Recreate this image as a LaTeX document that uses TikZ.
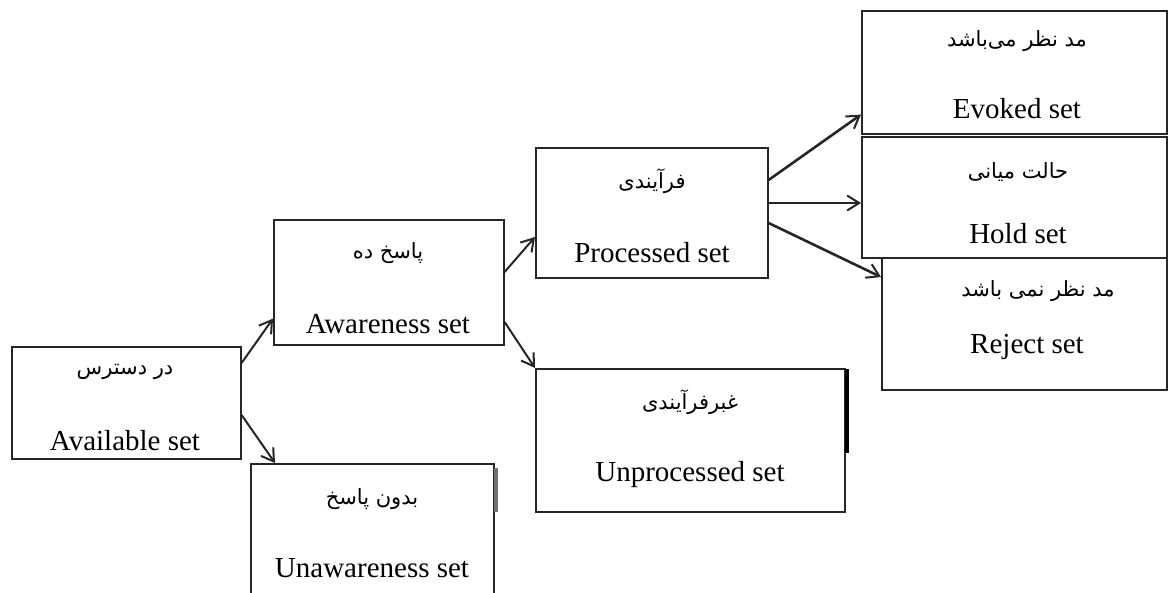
\documentclass[tikz,border=0pt]{standalone}
\usepackage{fontspec}
\setmainfont{Liberation Serif}
\newfontfamily\arabicfont[Script=Arabic]{DejaVu Sans}
\TeXXeTstate=1
\usetikzlibrary{arrows.meta}
\tikzset{
  setbox/.style={draw=black!85, line width=1.6pt, inner sep=0pt, anchor=north west, fill=white},
  en/.style={inner sep=0pt, anchor=base, font=\fontsize{29}{34}\selectfont},
  ar/.style={inner sep=0pt, anchor=center, font=\arabicfont\fontsize{21}{26}\selectfont},
  arr/.style={draw=black!85, line width=2pt, -{Straight Barb[length=12pt,width=15pt,line width=2pt]}},
  arrb/.style={arr, line width=2.6pt},
  shade/.style={line width=4pt}
}
\begin{document}
\begin{tikzpicture}[x=1pt,y=-1pt]
\useasboundingbox (0,0) rectangle (1170,592);
% boxes
\node[setbox, minimum width=229pt, minimum height=112pt] (avail) at (11,346) {};
\node[setbox, minimum width=243pt, minimum height=140pt] (unaware) at (250,463) {};
\node[setbox, minimum width=230pt, minimum height=125pt] (aware) at (273,219) {};
\node[setbox, minimum width=232pt, minimum height=130pt] (proc) at (535,147) {};
\node[setbox, minimum width=309pt, minimum height=143pt] (unproc) at (535,368) {};
\node[setbox, minimum width=285pt, minimum height=132pt] (reject) at (881,257) {};
\node[setbox, minimum width=305pt, minimum height=121pt] (hold) at (861,136) {};
\node[setbox, minimum width=305pt, minimum height=123pt] (evoked) at (861,10) {};
% shadow marks
\coordinate (s1a) at (846.5,369);
\coordinate (s1b) at (846.5,453);
\draw[shade, black] (s1a) -- (s1b);
\coordinate (s2a) at (496,468);
\coordinate (s2b) at (496,512);
\draw[shade, black!55] (s2a) -- (s2b);
% texts
\node[ar] (availA) at (125,372) {\beginR در دسترس\endR};
\node[en] (availE) at (125,450) {Available set};
\node[ar] (awareA) at (388,253) {\beginR پاسخ ده\endR};
\node[en] (awareE) at (388,333) {Awareness set};
\node[ar] (procA) at (652,181) {\beginR فرآیندی\endR};
\node[en] (procE) at (652,262) {Processed set};
\node[ar] (unprocA) at (690,402) {\beginR غبرفرآیندی\endR};
\node[en] (unprocE) at (690,481) {Unprocessed set};
\node[ar] (unawareA) at (372,499) {\beginR بدون پاسخ\endR};
\node[en] (unawareE) at (372,577) {Unawareness set};
\node[ar] (evokedA) at (1017,41) {\beginR مد نظر می‌باشد\endR};
\node[en] (evokedE) at (1017,118) {Evoked set};
\node[ar] (holdA) at (1018,172) {\beginR حالت میانی\endR};
\node[en] (holdE) at (1018,243) {Hold set};
\node[ar] (rejectA) at (1038,291) {\beginR مد نظر نمی باشد\endR};
\node[en] (rejectE) at (1027,353) {Reject set};
% arrows
\draw[arr] ([yshift=-17pt]avail.north east) -- ([yshift=27pt]aware.south west);
\draw[arr] ([yshift=-69pt]avail.north east) -- ([xshift=25pt]unaware.north west);
\draw[arr] ([yshift=-53pt]aware.north east) -- ([yshift=-90pt]proc.north west);
\draw[arr] ([yshift=-103pt]aware.north east) -- (unproc.north west);
\draw[arrb] ([yshift=-33pt]proc.north east) -- ([yshift=20pt]evoked.south west);
\draw[arrb] ([yshift=-56pt]proc.north east) -- ([yshift=-67pt]hold.north west);
\draw[arrb] ([yshift=-76pt]proc.north east) -- ([yshift=-20pt]reject.north west);
\end{tikzpicture}
\end{document}
